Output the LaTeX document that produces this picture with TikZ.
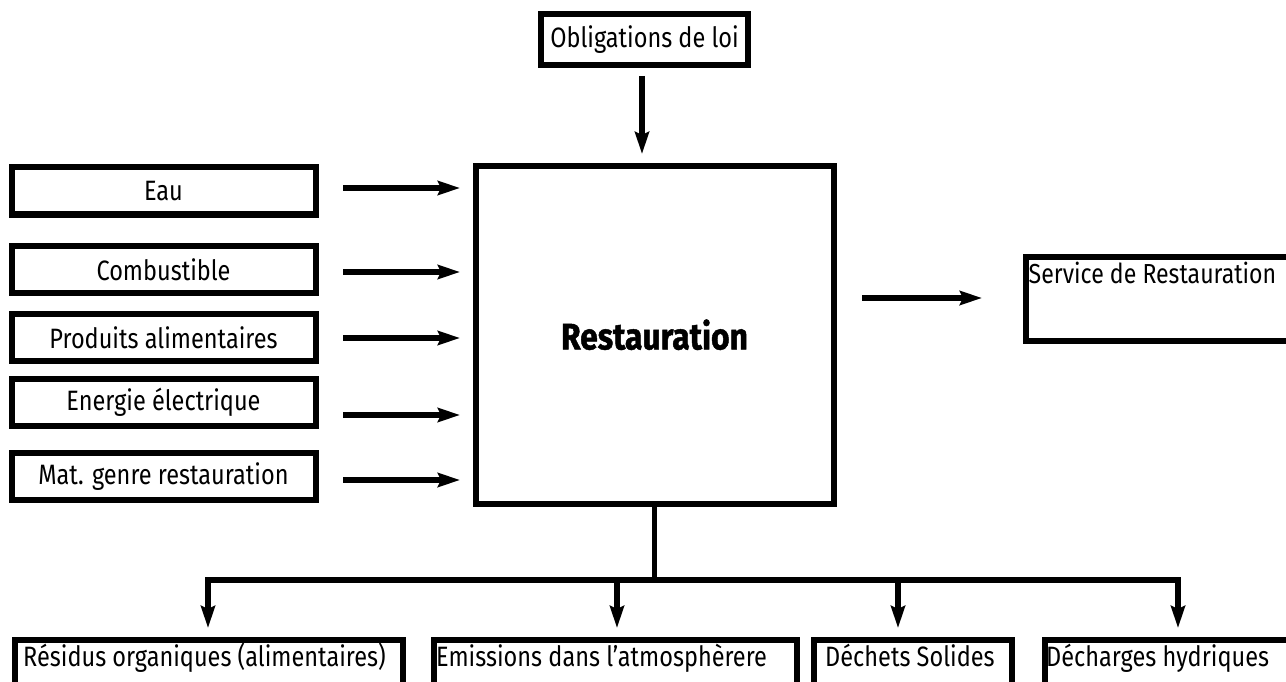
\documentclass[tikz,border=0pt]{standalone}
\usepackage{fontspec}
\setmainfont{Fira Sans}[FakeStretch=0.84]
\newfontfamily\titlefont{Fira Sans}[FakeStretch=0.86, BoldFeatures={FakeBold=1.2}]
\usetikzlibrary{arrows.meta}

\begin{document}
\begin{tikzpicture}[x=1pt,y=-1pt,
  box/.style={draw, line width=6pt, inner sep=0pt, fill=white},
  inbox/.style={box, minimum width=304pt, minimum height=47pt,
    font=\fontsize{28}{30}\selectfont},
  outbox/.style={box, anchor=north west, minimum height=80pt},
  lbl/.style={inner sep=0pt, anchor=base west, font=\fontsize{28}{30}\selectfont},
  wire/.style={line width=5.2pt, line cap=rect},
  arrow/.style={line width=5.2pt, -{Stealth[length=22pt,width=14pt,inset=3pt]}}
]
\useasboundingbox (0,0) rectangle (1286,682);
\clip (0,0) rectangle (1286,682);

% central process
\node[box, minimum width=358pt, minimum height=337.5pt,
  font=\titlefont\bfseries\fontsize{37}{40}\selectfont] (main) at (654.5,334.75) {Restauration};

% legal constraint on top
\node[box, minimum width=207.5pt, minimum height=51.5pt,
  font=\fontsize{28}{30}\selectfont] (law) at (644.5,39.5) {Obligations de loi};

% inputs
\node[inbox] (eau)  at (163.5,191)   {Eau};
\node[inbox] (comb) at (163.5,269.75) {Combustible};
\node[inbox] (prod) at (163.5,337.5) {Produits alimentaires};
\node[inbox] (elec) at (163.5,402.5) {Energie électrique};
\node[inbox] (mat)  at (163.5,476.5) {Mat. genre restauration};

% output product
\node[box, anchor=north west, minimum width=300pt, minimum height=84pt] (svc) at (1023,253.5) {};
\node[lbl, font=\fontsize{27.5}{30}\selectfont] (svct) at (1028.5,283) {Service de Restauration};

% waste outputs
\node[outbox, minimum width=388pt] (res) at (12,637) {};
\node[outbox, minimum width=363pt] (emi) at (431,637) {};
\node[outbox, minimum width=198pt] (sol) at (811,637) {};
\node[outbox, minimum width=300pt] (hyd) at (1042,637) {};
\node[lbl] (rest) at (23,666.5)   {Résidus organiques (alimentaires)};
\node[lbl] (emit) at (436,666.5)  {Emissions dans l’atmosphèrere};
\node[lbl] (solt) at (825,666.5)  {Déchets Solides};
\node[lbl] (hydt) at (1046,666.5) {Décharges hydriques};

% input arrows
\coordinate (i1) at (343,188);
\coordinate (i2) at (343,272);
\coordinate (i3) at (343,338);
\coordinate (i4) at (343,415);
\coordinate (i5) at (343,480);
\foreach \c in {i1,i2,i3,i4,i5}
  \draw[arrow, shorten >=12.5pt] (\c) -- (\c -| main.west);

% constraint arrow
\draw[arrow, shorten <=7.75pt, shorten >=9pt]
  ([xshift=-2.5pt]law.south) -- ([xshift=-2.5pt]law.south |- main.north);

% product arrow
\coordinate (o1) at (862,298);
\draw[arrow, shorten >=41pt] (o1) -- (o1 -| svc.west);

% waste distribution
\coordinate (d1) at (208,580);
\coordinate (d2) at (617,580);
\coordinate (d3) at (898,580);
\coordinate (d4) at (1178,580);
\draw[wire] (main.south) -- (main.south |- d1);
\draw[wire] (d1) -- (d4);
\draw[arrow, shorten >=9pt] (d1) -- (d1 |- res.north);
\draw[arrow, shorten >=9pt] (d2) -- (d2 |- emi.north);
\draw[arrow, shorten >=9pt] (d3) -- (d3 |- sol.north);
\draw[arrow, shorten >=9pt] (d4) -- (d4 |- hyd.north);
\end{tikzpicture}
\end{document}
